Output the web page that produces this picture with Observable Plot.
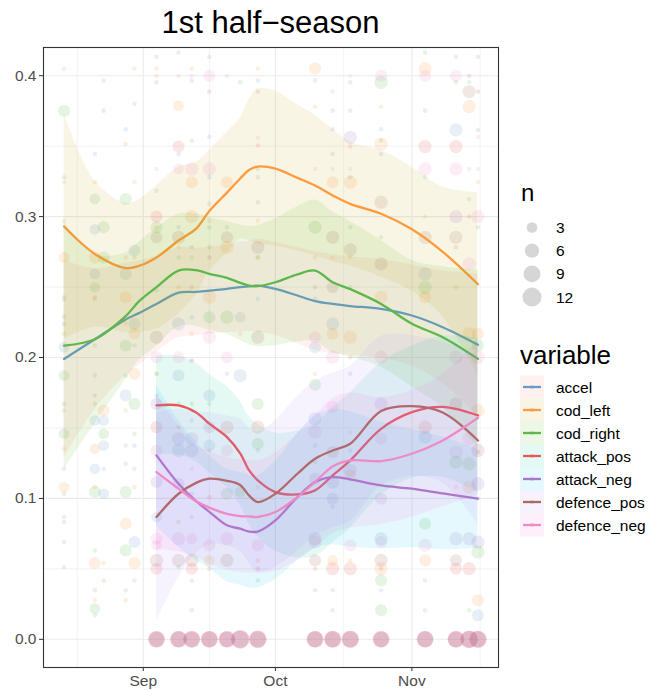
<!DOCTYPE html>
<html><head><meta charset="utf-8">
<script src="https://cdn.jsdelivr.net/npm/d3@7"></script>
<script src="https://cdn.jsdelivr.net/npm/@observablehq/plot@0.6"></script>
<style>
body{margin:0;background:#fff;font-family:"Liberation Sans",Arial,sans-serif;}
#wrap{position:relative;width:649px;height:690px;overflow:hidden;}
#chart{position:absolute;left:0;top:40px;}
#overlay{position:absolute;left:0;top:0;pointer-events:none;}
</style></head><body>
<div id="wrap"><div id="chart"></div><svg id="overlay" width="649" height="690"></svg></div>
<script>
// ---------- data ----------
const variables = ["accel","cod_left","cod_right","attack_pos","attack_neg","defence_pos","defence_neg"];
const lineColors = ["#6A9BC8","#FF9A3C","#5CB84A","#E9575A","#A878C8","#A86A62","#EE8AC6"];
const ribbonColors = ["#F8766D","#C49A00","#53B400","#00C094","#00B6EB","#A58AFF","#FB61D7"];

// dates at which the smoothed curves were read
const fitDates = ["2021-08-14","2021-08-21","2021-08-28","2021-08-31","2021-09-04","2021-09-09","2021-09-13","2021-09-16","2021-09-20","2021-09-23","2021-09-25","2021-09-27","2021-10-01","2021-10-06","2021-10-10","2021-10-14","2021-10-18","2021-10-25","2021-11-01","2021-11-08","2021-11-16"];
const accelFit    = [0.199,0.213,0.227,0.2315,0.238,0.246,0.2465,0.2475,0.2487,0.2499,0.2505,0.251,0.2487,0.244,0.240,0.238,0.2365,0.2345,0.2298,0.2215,0.209];
const accelHw     = [0.07,0.05,0.04,0.037,0.034,0.032,0.031,0.031,0.031,0.032,0.032,0.033,0.033,0.034,0.035,0.035,0.035,0.035,0.036,0.04,0.05];
const codLeftFit  = [0.293,0.2735,0.2635,0.265,0.271,0.283,0.2915,0.304,0.317,0.327,0.333,0.3355,0.334,0.3275,0.322,0.315,0.309,0.302,0.291,0.275,0.252];
const codLeftHw   = [0.08,0.052,0.046,0.047,0.051,0.052,0.047,0.043,0.043,0.043,0.05,0.055,0.055,0.052,0.05,0.047,0.044,0.045,0.044,0.046,0.065];
const codRightFit = [0.2085,0.213,0.2294,0.2398,0.2499,0.2617,0.262,0.2594,0.2565,0.253,0.251,0.2506,0.2534,0.259,0.2617,0.2534,0.2485,0.238,0.224,0.2144,0.199];
const codRightHw  = [0.088,0.06,0.045,0.042,0.042,0.04,0.04,0.04,0.04,0.041,0.042,0.043,0.045,0.048,0.05,0.05,0.048,0.045,0.045,0.05,0.063];
// the four attack/defence variables start on 2021-09-04 (5th fit date)
const attackPosFit  = [0.166,0.166,0.161,0.153,0.1435,0.132,0.12,0.1128,0.1045,0.1028,0.1057,0.1163,0.127,0.1494,0.1612,0.165,0.1589];
const attackPosHw   = [0.035,0.035,0.035,0.035,0.036,0.037,0.038,0.04,0.042,0.045,0.047,0.048,0.048,0.047,0.047,0.05,0.055];
const attackNegFit  = [0.1305,0.1104,0.098,0.0905,0.0809,0.0785,0.0765,0.0765,0.0844,0.1009,0.1116,0.1151,0.1135,0.1092,0.1069,0.1035,0.0998];
const attackNegHw   = [0.05,0.045,0.042,0.04,0.04,0.04,0.04,0.04,0.042,0.045,0.047,0.048,0.048,0.045,0.042,0.04,0.035];
const defencePosFit = [0.0868,0.1033,0.111,0.114,0.1125,0.1095,0.1021,0.0974,0.1033,0.1175,0.1281,0.134,0.1388,0.162,0.1655,0.161,0.1411];
const defencePosHw  = [0.074,0.06,0.05,0.047,0.046,0.047,0.048,0.05,0.052,0.055,0.055,0.055,0.055,0.053,0.05,0.05,0.06];
const defenceNegFit = [0.1187,0.1069,0.098,0.0935,0.0891,0.0875,0.0872,0.0868,0.0903,0.1009,0.1116,0.1227,0.127,0.1265,0.1317,0.1411,0.1572];
const defenceNegHw  = [0.055,0.045,0.04,0.04,0.04,0.04,0.04,0.04,0.042,0.045,0.047,0.048,0.048,0.045,0.045,0.047,0.055];

// observation dates (columns of points)
const pointDates = ["2021-08-14","2021-08-21","2021-08-23","2021-08-28","2021-08-30","2021-09-04","2021-09-09","2021-09-12","2021-09-16","2021-09-20","2021-09-23","2021-09-27","2021-10-10","2021-10-14","2021-10-18","2021-10-25","2021-11-04","2021-11-11","2021-11-14","2021-11-16"];
// [date index, value, n]
const accelPts = [[0,0.3279,1],[0,0.2428,1],[0,0.2239,1],[0,0.2073,3],[0,0.121,1],[0,0.0868,1],[0,0.069,1],[0,0.0513,1],
 [1,0.3444,1],[1,0.291,3],[1,0.2593,3],[1,0.2416,1],[1,0.173,1],[1,0.1553,3],[1,0.121,3],[1,0.0348,1],[1,0.017,1],
 [2,0.3965,1],[2,0.1553,3],[2,0.1376,3],[2,0.121,1],[2,0.1033,3],
 [3,0.362,1],[3,0.2593,4],[3,0.173,4],[3,0.1376,1],[3,0.0348,1],
 [4,0.38,1],[4,0.2759,4],[4,0.2239,4],[4,0.1376,1],[4,0.121,1],[4,0.069,4],
 [5,0.4135,1],[5,0.3184,1],[5,0.2475,1],[5,0.173,1],[5,0.0868,3],
 [6,0.3444,1],[6,0.2925,1],[6,0.2239,5],[6,0.1872,4],[6,0.134,5],
 [7,0.3965,1],[7,0.2286,1],[7,0.1979,1],[7,0.1553,1],[7,0.0868,1],
 [8,0.4135,1],[8,0.328,1],[8,0.173,4],[8,0.1376,4],
 [9,0.2925,1],[9,0.1884,1],[10,0.1872,5],[10,0.2286,3],
 [11,0.3965,1],[11,0.328,1],[11,0.2416,1],[11,0.134,1],
 [12,0.3965,1],[12,0.2416,1],[12,0.2073,4],[12,0.1565,5],[12,0.1376,1],[12,0.0348,1],
 [13,0.362,1],[13,0.3444,1],[13,0.2239,5],[13,0.0939,1],[13,0.0348,1],
 [14,0.328,1],[14,0.1884,1],[14,0.134,1],
 [15,0.362,1],[15,0.3444,1],[15,0.0714,5],[15,0.0348,1],
 [16,0.2593,5],[16,0.1435,5],[17,0.4135,1],[17,0.3615,5],
 [19,0.4135,1],[19,0.3615,1],[19,0.017,4]];
const codLeftPts = [[0,0.405,1],[0,0.3243,1],[0,0.297,1],[0,0.271,3],[0,0.241,1],[0,0.2168,1],[0,0.1624,1],[0,0.1352,1],[0,0.108,3],
 [1,0.3243,1],[1,0.271,4],[1,0.2428,1],[1,0.1352,3],[1,0.108,1],[1,0.0541,4],[1,0.0277,1],
 [2,0.1624,4],[2,0.0541,1],
 [3,0.3515,1],[3,0.271,1],[3,0.2428,4],[3,0.2239,1],[3,0.1624,1],[3,0.082,4],[3,0.0277,1],
 [4,0.405,1],[4,0.3243,1],[4,0.271,1],[4,0.2168,4],[4,0.1884,4],[4,0.108,1],[4,0.0541,4],
 [5,0.405,1],[5,0.2925,1],[5,0.1884,1],[6,0.3787,3],[6,0.2782,1],[6,0.2498,1],
 [7,0.405,1],[7,0.3243,4],[7,0.3,5],[7,0.2168,1],[8,0.297,1],[8,0.2428,5],[8,0.056,3],
 [9,0.3243,4],[9,0.2782,5],[10,0.2168,1],[11,0.405,1],[11,0.297,1],[11,0.271,1],
 [12,0.405,4],[12,0.378,1],[12,0.271,1],[12,0.1884,1],
 [13,0.3243,4],[13,0.271,1],[13,0.2168,4],[13,0.056,3],
 [14,0.3243,5],[14,0.271,1],[14,0.2144,5],[14,0.1163,4],[14,0.056,1],
 [15,0.378,1],[15,0.3515,5],[15,0.2428,5],[15,0.0501,5],
 [16,0.405,5],[16,0.3,1],[16,0.2428,4],[16,0.056,4],[17,0.108,1],
 [18,0.378,5],[18,0.2168,5],[18,0.108,5],
 [19,0.3243,1],[19,0.2168,4],[19,0.1624,5],[19,0.0277,4]];
const codRightPts = [[0,0.375,4],[0,0.229,1],[0,0.1872,3],[0,0.1671,1],[0,0.1459,3],[0,0.1033,1],[0,0.0832,1],
 [1,0.3125,3],[1,0.2498,3],[1,0.2085,1],[1,0.1872,1],[1,0.1671,1],[1,0.1045,4],[1,0.0631,1],[1,0.0218,3],
 [2,0.3752,1],[2,0.2925,4],[2,0.271,4],[2,0.1459,3],[2,0.0418,1],
 [3,0.3125,4],[3,0.2085,4],[3,0.1872,1],[3,0.1246,1],[3,0.1045,4],[3,0.0631,4],
 [4,0.2085,1],[4,0.1671,4],[4,0.1459,1],[4,0.0418,1],
 [5,0.3953,1],[5,0.2925,4],[5,0.1884,1],
 [6,0.4165,1],[6,0.271,1],[6,0.1671,1],[6,0.0832,1],[6,0.0513,1],
 [7,0.354,1],[7,0.271,1],[7,0.1671,1],[7,0.0418,1],[7,0.0206,1],
 [8,0.309,1],[8,0.2925,1],[8,0.2782,1],[8,0.2286,4],[8,0.1671,1],
 [9,0.2286,5],[9,0.1033,4],[10,0.3953,1],[10,0.1045,3],
 [11,0.3338,1],[11,0.3102,1],[11,0.271,1],[11,0.167,4],[11,0.1388,4],[11,0.0418,1],
 [12,0.2925,5],[12,0.1806,4],[12,0.1258,1],[13,0.3752,1],[13,0.0206,1],
 [14,0.3953,1],[14,0.3752,1],[14,0.2925,1],[14,0.2498,1],
 [15,0.3953,5],[15,0.354,1],[15,0.2853,1],[15,0.0418,4],[15,0.0206,4],
 [16,0.4165,1],[16,0.3752,1],[16,0.328,1],[16,0.2498,5],[16,0.082,4],[16,0.0418,1],[16,0.0206,1],
 [17,0.3953,1],[17,0.2498,1],[17,0.1258,5],
 [18,0.3953,1],[18,0.3125,1],[18,0.1246,5],[18,0.0206,1],
 [19,0.2925,1],[19,0.2085,4],[19,0.062,5]];
const attackPosPts = [[5,0.3,4],[5,0.1506,4],[5,0.0501,4],[6,0.3497,4],[6,0.1506,1],[7,0.0501,4],
 [8,0.1009,1],[8,0.0501,1],[9,0.1506,5],[11,0.3504,1],[11,0.1506,5],[11,0.056,1],[11,0.0501,1],
 [12,0.0501,1],[13,0.0501,5],[14,0.3497,1],[14,0.2002,1],[14,0.0501,5],[15,0.0501,1],
 [16,0.3497,5],[16,0.1506,5],[17,0.3497,5],[17,0.0501,4],[18,0.4,1],[18,0.3,1],[18,0.0501,5],[19,0.1329,1]];
const attackNegPts = [[5,0.1671,4],[5,0.1116,4],[6,0.1423,5],[6,0.1104,4],[7,0.1423,5],[7,0.134,5],[7,0.1033,1],
 [8,0.3567,1],[8,0.1506,4],[12,0.114,4],[12,0.0714,5],[13,0.1116,5],[13,0.0998,4],[14,0.3563,5],[14,0.1199,5],
 [15,0.1671,5],[15,0.0998,4],[17,0.3,5],[17,0.0714,5],[18,0.0714,5],[19,0.1104,5],[19,0.069,5]];
const defencePosPts = [[5,0.2853,4],[5,0.2144,5],[5,0.056,5],[6,0.2853,5],[6,0.056,5],[7,0.2782,1],[7,0.2498,1],[7,0.056,5],
 [8,0.3887,1],[8,0.271,1],[9,0.2853,4],[9,0.056,5],[11,0.3887,1],[11,0.2782,5],[11,0.2144,5],
 [12,0.2498,1],[12,0.056,4],[13,0.2853,5],[13,0.2498,4],[13,0.1329,4],[14,0.2764,5],
 [15,0.3102,5],[15,0.2664,5],[15,0.056,5],[16,0.2853,5],[17,0.2853,5],[17,0.2782,1],[17,0.1671,5],[17,0.056,4],
 [18,0.3887,5],[19,0.3887,1],[19,0.134,5]];
const defenceNegPts = [[5,0.4,1],[5,0.3338,1],[5,0.2002,4],[5,0.134,4],[5,0.0714,4],[5,0.0667,3],
 [6,0.4,1],[6,0.3338,3],[6,0.2002,4],[6,0.0714,5],[7,0.4,1],[7,0.3338,5],[7,0.1979,1],[7,0.121,1],[7,0.0714,3],
 [8,0.4,4],[8,0.3338,5],[8,0.2144,5],[8,0.134,1],[8,0.0667,4],[9,0.4,1],[9,0.2002,4],[9,0.134,4],[9,0.0714,5],
 [11,0.356,1],[11,0.108,1],[11,0.0667,4],[12,0.3338,1],[12,0.2144,4],[12,0.147,5],[12,0.069,5],
 [13,0.3887,1],[13,0.3338,1],[13,0.2002,5],[13,0.1648,4],[14,0.4,1],[14,0.3338,1],[14,0.147,1],[14,0.0667,4],
 [15,0.4,4],[15,0.2002,5],[15,0.1423,4],[15,0.069,4],[16,0.4,4],[16,0.3338,5],[16,0.0667,5],
 [17,0.4,4],[17,0.3338,5],[17,0.2002,5],[17,0.1329,5],[18,0.3338,1],[18,0.2664,5],[18,0.1423,5],
 [19,0.3565,1],[19,0.3338,1],[19,0.3,5],[19,0.2002,5],[19,0.0998,1]];
// counts of zero values (value 0.0) at point dates 5..19
const attackPosZero  = [9,9,9,9,9,12,10,9,9,10,9,9,9,10,10];
const attackNegZero  = [8,8,9,8,8,9,9,8,8,9,8,8,8,9,9];
const defencePosZero = [7,8,7,8,7,10,8,8,8,8,7,8,8,9,8];
const defenceNegZero = [9,9,9,9,9,11,10,9,10,9,9,9,9,10,9];

// axis ticks
const xMajor = ["2021-09-01","2021-10-01","2021-11-01"];
const xMinor = ["2021-08-17","2021-09-16","2021-10-16T12:00","2021-11-16T12:00"];
const yMajor = [0,0.1,0.2,0.3,0.4];
const yMinor = [0.05,0.15,0.25,0.35];
const sizeBreaks = [3,6,9,12];

// ---------- build tables ----------
const D = s => new Date(s.length > 10 ? s + "Z" : s + "T00:00Z");
const fits = [
  [accelFit, accelHw, 0], [codLeftFit, codLeftHw, 0], [codRightFit, codRightHw, 0],
  [attackPosFit, attackPosHw, 4], [attackNegFit, attackNegHw, 4],
  [defencePosFit, defencePosHw, 4], [defenceNegFit, defenceNegHw, 4]
];
const fitRows = variables.map((v, i) => {
  const [fit, hw, off] = fits[i];
  return fit.map((y, j) => ({variable: v, date: D(fitDates[j + off]), y, lo: y - hw[j], hi: y + hw[j]}));
});
const ptsByVar = [accelPts, codLeftPts, codRightPts, attackPosPts, attackNegPts, defencePosPts, defenceNegPts];
const zeroByVar = [null, null, null, attackPosZero, attackNegZero, defencePosZero, defenceNegZero];
const points = [];
variables.forEach((v, i) => {
  ptsByVar[i].forEach(([k, y, n]) => points.push({variable: v, date: D(pointDates[k]), y, n}));
  if (zeroByVar[i]) zeroByVar[i].forEach((n, j) => points.push({variable: v, date: D(pointDates[j + 5]), y: 0, n}));
});
const nMin = 1;

const smoothMarks = [];
variables.forEach((v, i) => {
  smoothMarks.push(Plot.areaY(fitRows[i], {x: "date", y1: "lo", y2: "hi", fill: ribbonColors[i], fillOpacity: 0.1, curve: "catmull-rom"}));
  smoothMarks.push(Plot.lineY(fitRows[i], {x: "date", y: "y", stroke: "variable", strokeWidth: 2.3, curve: "catmull-rom"}));
});

const plot = Plot.plot({
  width: 500, height: 650,
  marginLeft: 43, marginRight: 2, marginTop: 7, marginBottom: 23,
  style: {fontFamily: "Liberation Sans, Arial, sans-serif", fontSize: "15.5px", color: "#4d4d4d", background: "white"},
  x: {type: "utc", domain: [D("2021-08-09T08:00"), D("2021-11-20T16:00")]},
  y: {domain: [-0.02, 0.42]},
  r: {type: "sqrt", domain: [0, 11], range: [2.27, 9.5]},
  color: {domain: variables, range: lineColors},
  marks: [
    Plot.ruleY(yMinor, {stroke: "#ebebeb", strokeWidth: 0.6}),
    Plot.ruleX(xMinor.map(D), {stroke: "#ebebeb", strokeWidth: 0.6}),
    Plot.ruleY(yMajor, {stroke: "#ebebeb", strokeWidth: 1.1}),
    Plot.ruleX(xMajor.map(D), {stroke: "#ebebeb", strokeWidth: 1.1}),
    Plot.dot(points, {x: "date", y: "y", r: d => d.n - nMin, fill: "variable", fillOpacity: 0.155, stroke: null}),
    ...smoothMarks,
    Plot.frame({stroke: "#333", strokeWidth: 1.1}),
    Plot.axisX(xMajor.map(D), {tickFormat: d3.utcFormat("%b"), tickSize: 4, tickPadding: 3, stroke: "#333", label: null}),
    Plot.axisY(yMajor, {tickFormat: d3.format(".1f"), tickSize: 4, tickPadding: 3, stroke: "#333", label: null})
  ]
});
document.getElementById("chart").appendChild(plot);

// ---------- title & legends ----------
const rScale = plot.scale("r");
const rOf = n => {
  const t = (n - nMin - rScale.domain[0]) / (rScale.domain[1] - rScale.domain[0]);
  return rScale.range[0] + Math.sqrt(Math.max(0, t)) * (rScale.range[1] - rScale.range[0]);
};
const ov = d3.select("#overlay");
ov.append("text").attr("x", 270.5).attr("y", 33).attr("text-anchor", "middle")
  .attr("font-size", 31).attr("fill", "#000").text("1st half−season");

ov.append("text").attr("x", 521).attr("y", 201).attr("font-size", 24).attr("fill", "#000").text("n");
sizeBreaks.forEach((n, i) => {
  const cy = 227.5 + i * 23.2;
  ov.append("circle").attr("cx", 532).attr("cy", cy).attr("r", rOf(n)).attr("fill", "#000").attr("fill-opacity", 0.16);
  ov.append("text").attr("x", 556).attr("y", cy + 5.5).attr("font-size", 15.5).attr("fill", "#000").text(n);
});

ov.append("text").attr("x", 520).attr("y", 364).attr("font-size", 26).attr("fill", "#000").text("variable");
variables.forEach((v, i) => {
  const top = 375.5 + i * 23;
  const cy = top + 11.5;
  ov.append("rect").attr("x", 520).attr("y", top).attr("width", 24).attr("height", 23)
    .attr("fill", ribbonColors[i]).attr("fill-opacity", 0.1);
  ov.append("circle").attr("cx", 532).attr("cy", cy).attr("r", 2.3).attr("fill", "#000").attr("fill-opacity", 0.1);
  ov.append("line").attr("x1", 523).attr("x2", 541).attr("y1", cy).attr("y2", cy)
    .attr("stroke", lineColors[i]).attr("stroke-width", 2.3);
  ov.append("text").attr("x", 556).attr("y", cy + 5.5).attr("font-size", 15.5).attr("fill", "#000").text(v);
});
</script>
</body></html>
